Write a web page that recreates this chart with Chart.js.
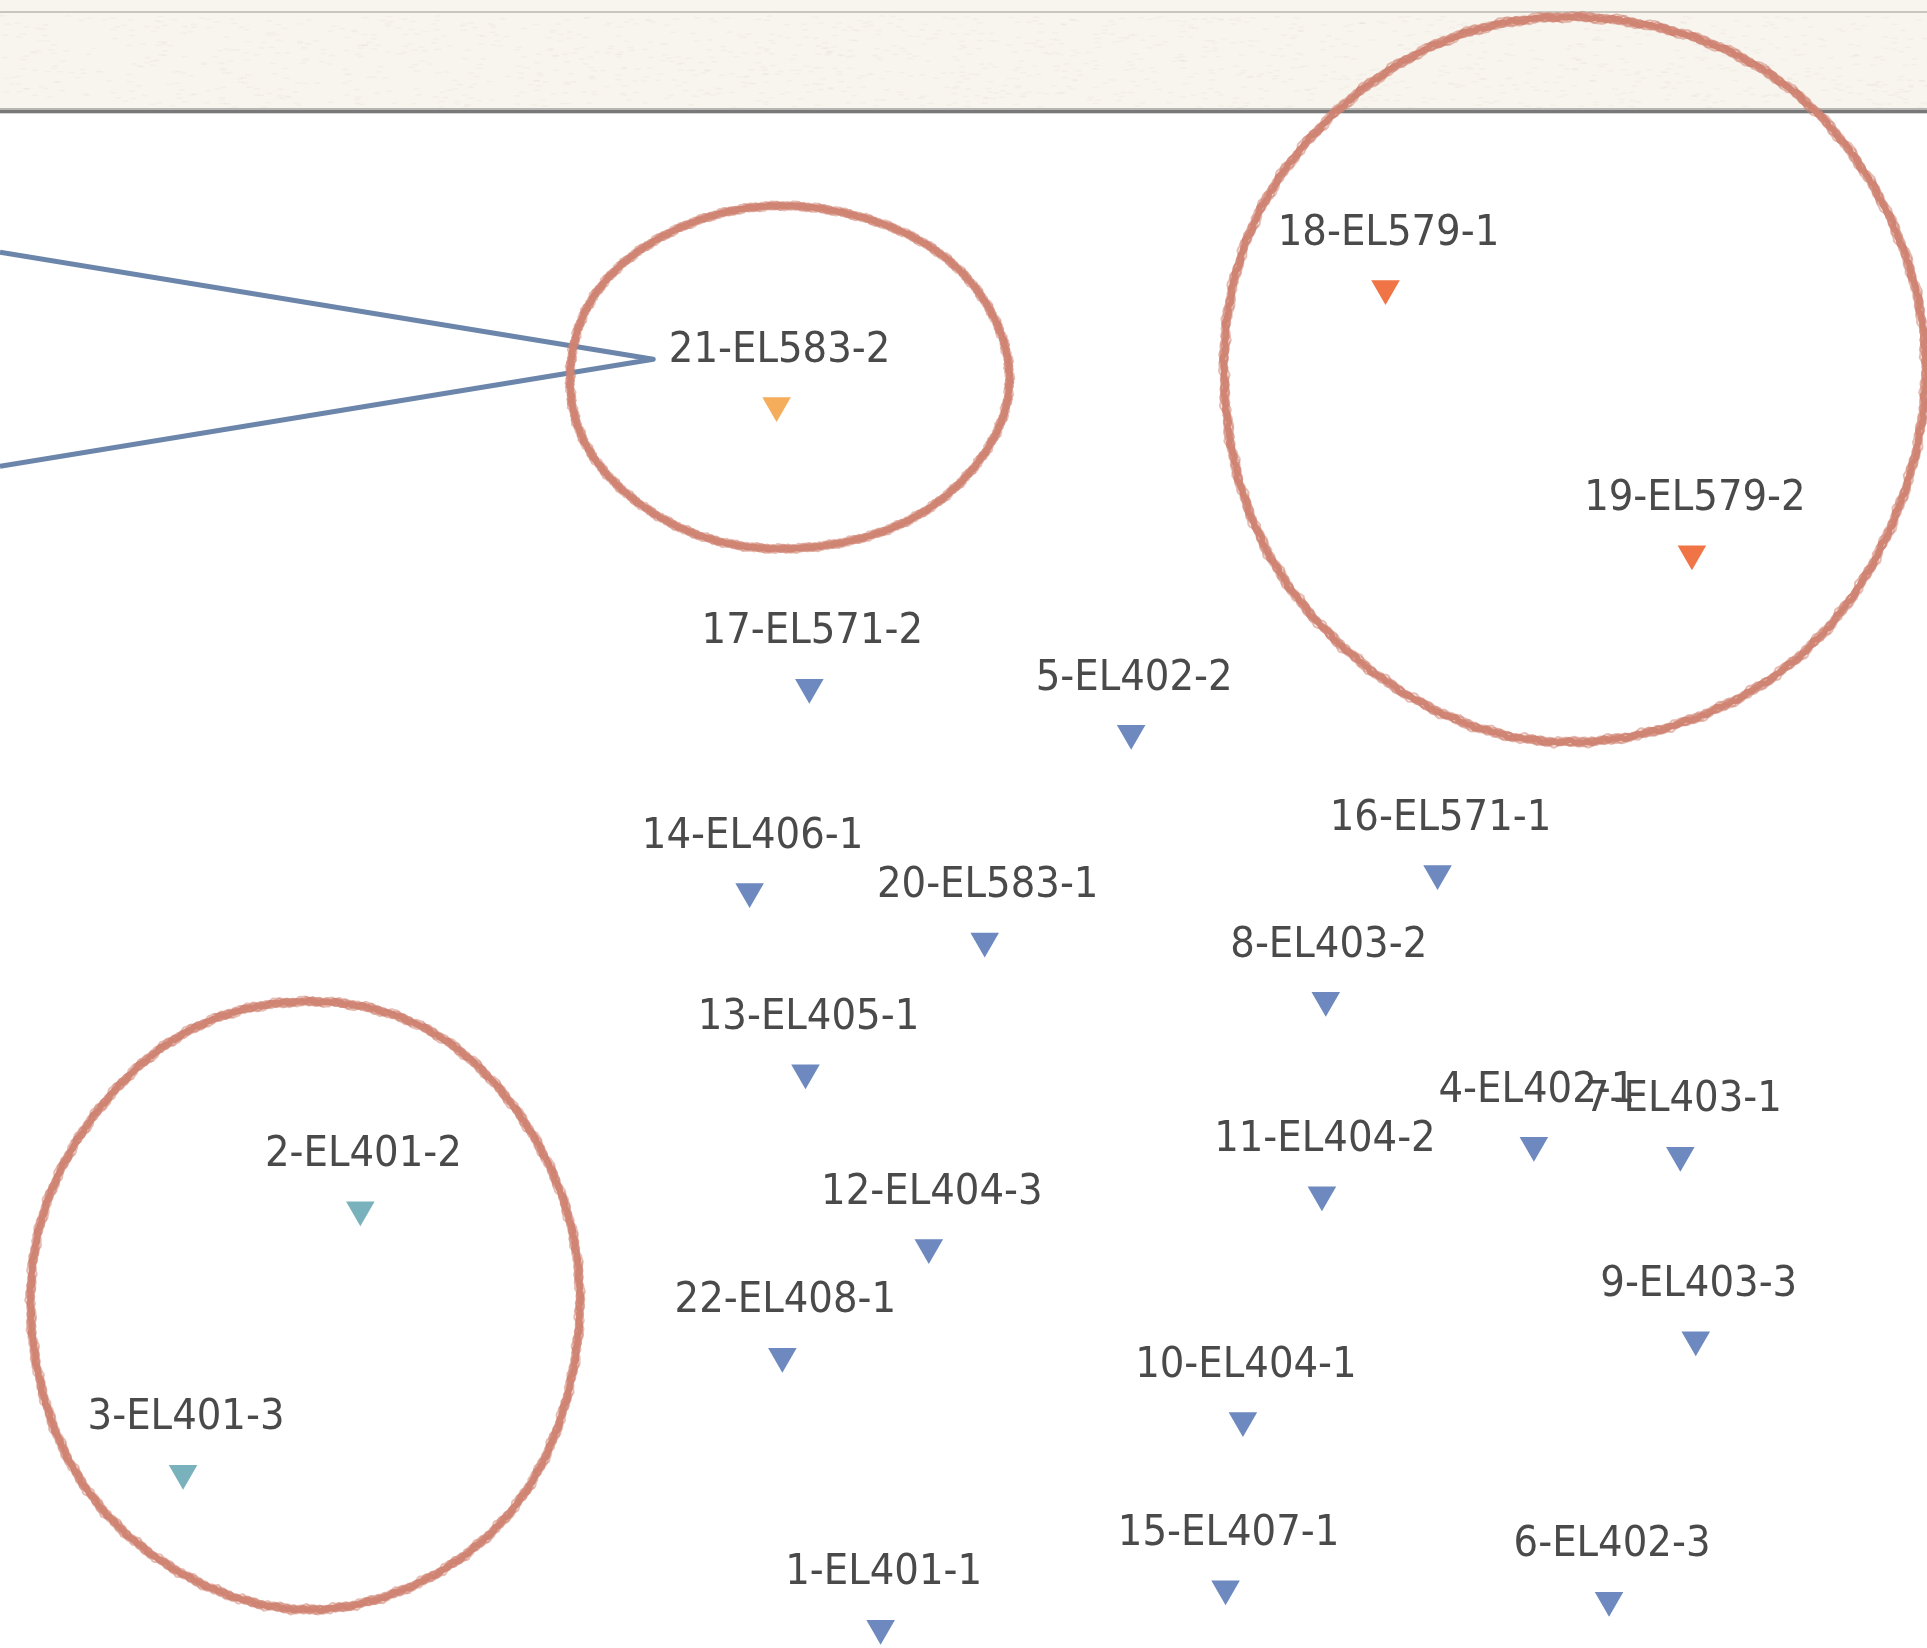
<!DOCTYPE html>
<html>
<head>
<meta charset="utf-8">
<script src="https://cdn.jsdelivr.net/npm/chart.js@4.4.1/dist/chart.umd.min.js"></script>
<style>
html,body{margin:0;padding:0;background:#ffffff;overflow:hidden;}
#wrap{position:relative;width:1927px;height:1648px;}
</style>
</head>
<body>
<div id="wrap"><canvas id="c" width="1927" height="1648"></canvas></div>
<script>
// ---- data (arbitrary score units) ----
const pointLabels = ['1-EL401-1','2-EL401-2','3-EL401-3','4-EL402-1','5-EL402-2','6-EL402-3','7-EL403-1','8-EL403-2','9-EL403-3','10-EL404-1','11-EL404-2','12-EL404-3','13-EL405-1','14-EL406-1','15-EL407-1','16-EL571-1','17-EL571-2','18-EL579-1','19-EL579-2','20-EL583-1','21-EL583-2','22-EL408-1'];
const xValues = [45.7,18.7,9.5,79.6,58.7,83.5,87.2,68.8,88.0,64.5,68.6,48.2,41.8,38.9,63.6,74.6,42.0,71.9,87.8,51.1,40.3,40.6];
const yValues = [1.2,26.6,10.6,30.5,55.5,2.9,29.9,39.3,18.7,13.8,27.5,24.3,34.9,45.9,3.6,47.0,58.3,82.5,66.4,42.9,75.4,17.7];
const groups  = ['A','B','B','A','A','A','A','A','A','A','A','A','A','A','A','A','A','D','D','A','C','A'];
const groupColors = {A:'#6d89bf', B:'#79b2bc', C:'#f5ad5c', D:'#f07446'};

// annotation shapes in data units
const circles = [
  {cx:40.9, cy:77.1, rx:11.4, ry:10.4, seed:1},
  {cx:81.7, cy:77.1, rx:18.2, ry:22.0, seed:2},
  {cx:15.9, cy:20.8, rx:14.25, ry:18.45, seed:3}
];
const calloutX = [0, 33.9, 0];
const calloutY = [84.7, 78.2, 71.7];

// ---- build datasets ----
const groupOrder = ['A','B','C','D'];
const datasets = groupOrder.map(g => {
  const pts = [];
  for (let i = 0; i < pointLabels.length; i++) {
    if (groups[i] === g) pts.push({x: xValues[i], y: yValues[i], label: pointLabels[i]});
  }
  return {
    label: g, data: pts,
    pointStyle: 'triangle', pointRotation: 180, pointRadius: 16.5, pointHoverRadius: 16.5,
    backgroundColor: groupColors[g], borderColor: groupColors[g], borderWidth: 0,
    clip: false
  };
});

const bannerPlugin = {
  id: 'banner',
  beforeDraw(chart) {
    const ctx = chart.ctx, W = chart.width;
    ctx.save();
    ctx.fillStyle = '#ffffff';
    ctx.fillRect(0, 0, W, chart.height);
    ctx.fillStyle = '#f8f5ee';
    ctx.fillRect(0, 0, W, 111);
    // faint paper texture
    ctx.globalAlpha = 0.06;
    ctx.fillStyle = '#a89f88';
    for (let i = 0; i < 1400; i++) {
      const px = (Math.sin(i * 12.9898) * 43758.5453) % 1;
      const py = (Math.sin(i * 78.233) * 12345.6789) % 1;
      ctx.fillRect(Math.abs(px) * W, 15 + Math.abs(py) * 92, 6, 1.5);
    }
    ctx.globalAlpha = 1;
    ctx.fillStyle = '#c9c6bf';
    ctx.fillRect(0, 11, W, 2);
    ctx.fillStyle = '#b8b6b2';
    ctx.fillRect(0, 108, W, 2);
    ctx.fillStyle = '#787878';
    ctx.fillRect(0, 110, W, 3);
    ctx.fillStyle = '#d6d6d6';
    ctx.fillRect(0, 113, W, 1);
    ctx.restore();
  }
};

function roughEllipse(ctx, cx, cy, rx, ry, seed) {
  const passes = 11;
  const mid = (passes - 1) / 2;
  for (let k = 0; k < passes; k++) {
    ctx.beginPath();
    const steps = 900;
    for (let s = 0; s <= steps; s++) {
      const t = s / steps * Math.PI * 2;
      const base = 1 + 0.005 * Math.sin(3 * t + seed * 1.7) + 0.003 * Math.sin(7 * t + seed);
      const jitter = 0.003 * Math.sin(57 * t + k * 1.3 + seed) + 0.002 * Math.sin(131 * t + k * 2.1)
                   + 0.0015 * Math.sin(263 * t + k * 0.7);
      const off = (k - mid) * 0.75;
      const x = cx + (rx * (base + jitter) + off) * Math.cos(t);
      const y = cy + (ry * (base + jitter) + off) * Math.sin(t);
      if (s === 0) ctx.moveTo(x, y); else ctx.lineTo(x, y);
    }
    const center = k === mid;
    ctx.lineWidth = center ? 6 : 2;
    ctx.globalAlpha = center ? 0.95 : 0.55;
    ctx.stroke();
  }
  ctx.globalAlpha = 1;
}

const annotPlugin = {
  id: 'annot',
  afterDatasetsDraw(chart) {
    const ctx = chart.ctx;
    const xs = chart.scales.x, ys = chart.scales.y;
    ctx.save();
    // point labels
    ctx.font = '43px "DejaVu Sans Condensed", "Liberation Sans Narrow", "DejaVu Sans", sans-serif';
    ctx.fillStyle = '#4a4a4a';
    ctx.textAlign = 'center';
    ctx.textBaseline = 'middle';
    chart.data.datasets.forEach((ds, di) => {
      const meta = chart.getDatasetMeta(di);
      meta.data.forEach((el, i) => {
        ctx.fillText(ds.data[i].label, el.x + 3, el.y - 55);
      });
    });
    // callout line
    ctx.strokeStyle = '#6b86aa';
    ctx.lineWidth = 5;
    ctx.lineJoin = 'round';
    ctx.beginPath();
    for (let i = 0; i < calloutX.length; i++) {
      const px = xs.getPixelForValue(calloutX[i]), py = ys.getPixelForValue(calloutY[i]);
      if (i === 0) ctx.moveTo(px, py); else ctx.lineTo(px, py);
    }
    ctx.stroke();
    // hand-drawn circles
    ctx.strokeStyle = '#d08472';
    circles.forEach(c => {
      const pcx = xs.getPixelForValue(c.cx), pcy = ys.getPixelForValue(c.cy);
      const prx = Math.abs(xs.getPixelForValue(c.cx + c.rx) - pcx);
      const pry = Math.abs(ys.getPixelForValue(c.cy + c.ry) - pcy);
      roughEllipse(ctx, pcx, pcy, prx, pry, c.seed);
    });
    ctx.restore();
  }
};

new Chart(document.getElementById('c'), {
  type: 'scatter',
  data: { datasets },
  options: {
    responsive: false,
    animation: false,
    layout: { padding: 0, autoPadding: false },
    plugins: { legend: { display: false }, tooltip: { enabled: false } },
    scales: {
      x: { type: 'linear', min: 0, max: 100, display: false },
      y: { type: 'linear', min: 0, max: 100, display: false }
    }
  },
  plugins: [bannerPlugin, annotPlugin]
});
</script>
</body>
</html>
